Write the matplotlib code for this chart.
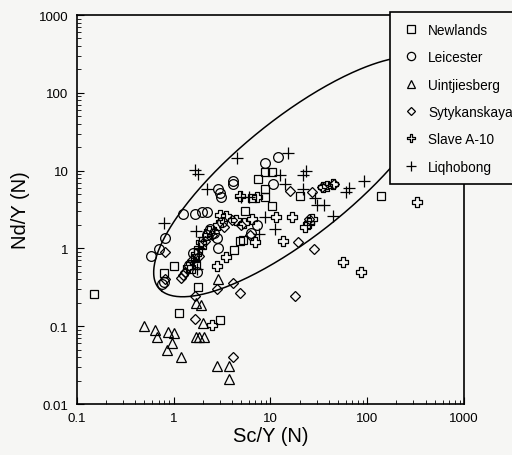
import numpy as np
import matplotlib.pyplot as plt
from matplotlib.path import Path

plt.rcParams['font.family'] = ['Liberation Sans', 'DejaVu Sans']

# --- data (Sc/Y normalised, Nd/Y normalised) ---
newlands_x = [0.15, 1.15, 3.0, 1.8, 0.8, 1.0, 4.2, 4.8, 6.4, 7.5, 8.9, 10.4, 8.9, 8.9, 10.4, 20, 140,
              1.5, 1.65, 1.8, 1.7, 1.95, 5.5, 5.2]
newlands_y = [0.26, 0.15, 0.12, 0.32, 0.48, 0.6, 0.95, 1.25, 4.5, 7.8, 9.6, 9.6, 5.8, 4.6, 3.5, 4.7, 4.7,
              0.55, 0.75, 0.95, 0.62, 1.1, 3.0, 1.3]

leicester_x = [0.58, 0.71, 0.82, 0.76, 0.8, 1.26, 1.67, 1.97, 2.22, 2.9, 3.0, 3.1, 4.1, 4.1, 8.8, 12,
               10.7, 2.9, 2.8, 2.4, 7.2, 1.45, 1.6, 1.75, 2.2, 2.6, 3.2, 6.3]
leicester_y = [0.8, 0.98, 1.37, 0.35, 0.37, 2.77, 2.8, 2.98, 2.98, 5.8, 5.2, 4.6, 7.4, 6.8, 12.5, 15,
               6.8, 1.0, 1.35, 1.8, 2.0, 0.62, 0.88, 0.5, 1.5, 1.6, 2.2, 1.6]

uint_x = [0.49, 0.64, 0.68, 0.88, 1.0, 0.97, 0.85, 1.2, 1.7, 1.9, 1.7, 2.05, 1.85, 2.0, 2.9, 2.8, 3.7, 3.7]
uint_y = [0.10, 0.09, 0.072, 0.085, 0.082, 0.06, 0.05, 0.04, 0.2, 0.19, 0.072, 0.072, 0.072, 0.11,
          0.41, 0.031, 0.031, 0.021]

syty_x = [0.82, 0.82, 1.2, 1.67, 1.67, 2.8, 4.1, 4.9, 4.1, 18, 28.3, 19.3, 16, 27, 34, 45, 25,
          1.3, 1.55, 1.85, 2.1, 2.5, 3.3, 4.0, 5.0, 6.1, 1.25]
syty_y = [0.9, 0.4, 0.42, 0.245, 0.125, 0.3, 0.36, 0.27, 0.04, 0.245, 0.99, 1.2, 5.5, 5.3, 6.2, 6.7, 2.4,
          0.5, 0.7, 0.8, 1.25, 1.5, 1.9, 2.3, 2.0, 1.5, 0.45]

slave_x = [330, 56, 87, 13.6, 16.9, 23, 25, 27, 11.5, 7.0, 3.5, 2.8, 2.5, 4.9, 3.0, 44.6, 35, 38, 7.2,
           1.4, 1.7, 1.9, 2.3, 2.9, 3.5, 4.4, 5.3, 6.5]
slave_y = [3.9, 0.67, 0.5, 1.24, 2.5, 1.9, 2.1, 2.4, 2.5, 1.2, 0.78, 0.6, 0.104, 4.7, 2.7, 6.7, 6.2, 6.3, 4.6,
           0.58, 0.85, 1.2, 1.7, 2.0, 2.6, 2.3, 2.1, 2.4]

liq_x = [0.8, 1.66, 1.8, 2.2, 4.5, 15.2, 12.6, 14.3, 21.5, 23.4, 29, 30, 36, 61, 65, 92, 44.6, 11.2,
         8.9, 7.7, 21.5, 1.6, 1.75, 1.85, 1.7, 2.0, 6.0, 5.0]
liq_y = [2.1, 10.2, 9.1, 5.8, 14.5, 16.9, 8.8, 6.7, 8.8, 10, 4.5, 3.6, 3.6, 5.3, 6.0, 7.4, 2.6, 1.8,
         2.5, 1.55, 5.8, 0.7, 0.55, 1.0, 1.7, 1.4, 4.6, 4.6]

# points traced on the envelope line (log10 x, log10 y)
env_lx = [-0.118, 0.036, 0.243, 0.48, 0.82, 1.10, 1.307, 1.648, 2.237,
          -0.057, 0.068, 0.275, 0.657, 0.79, 1.43, 2.237]
env_ly = [-0.008, -0.432, -0.56, -0.548, -0.393, -0.175, 0.031, 0.404, 1.046,
          0.211, 0.596, 0.853, 1.149, 1.37, 1.92, 2.5]

# open-cross marker used for Slave A-10
cross = Path([(-0.35, 1), (0.35, 1), (0.35, 0.35), (1, 0.35), (1, -0.35), (0.35, -0.35),
              (0.35, -1), (-0.35, -1), (-0.35, -0.35), (-1, -0.35), (-1, 0.35), (-0.35, 0.35),
              (-0.35, 1)])

bg = '#f6f6f4'
fig = plt.figure(figsize=(5.12, 4.56), dpi=100, facecolor=bg)
ax = fig.add_axes([0.1498, 0.1118, 0.7566, 0.853], facecolor=bg)

# ellipse fitted to the traced envelope (in centred log space)
lx = np.array(env_lx)
ly = np.array(env_ly)
mx, my = lx.mean(), ly.mean()
u, vv = lx - mx, ly - my
A = np.column_stack([u**2, u * vv, vv**2, u, vv])
a, b, c, d, e = np.linalg.lstsq(A, np.ones_like(u), rcond=None)[0]
f = -1.0
x0, y0 = np.linalg.solve([[2 * a, b], [b, 2 * c]], [-d, -e])
fc = f + (d * x0 + e * y0) / 2
w, v = np.linalg.eigh([[a, b / 2], [b / 2, c]])
t = np.linspace(0, 2 * np.pi, 400)
r = np.sqrt(-fc / w)
pts = v @ np.vstack([r[0] * np.cos(t), r[1] * np.sin(t)])
ax.plot(10 ** (mx + x0 + pts[0]), 10 ** (my + y0 + pts[1]), color='black', lw=1.1, zorder=1)

kw = dict(linestyle='none', mfc='none', mec='black', mew=0.9, zorder=3)
h1, = ax.plot(newlands_x, newlands_y, marker='s', ms=6, label='Newlands', **kw)
h2, = ax.plot(leicester_x, leicester_y, marker='o', ms=7, label='Leicester', **kw)
h3, = ax.plot(uint_x, uint_y, marker='^', ms=7, label='Uintjiesberg', **kw)
h4, = ax.plot(syty_x, syty_y, marker='D', ms=5, label='Sytykanskaya', **kw)
h5, = ax.plot(slave_x, slave_y, marker=cross, ms=7, label='Slave A-10', **kw)
h6, = ax.plot(liq_x, liq_y, marker='+', ms=8, label='Liqhobong', **kw)

ax.set_xscale('log')
ax.set_yscale('log')
ax.set_xlim(0.1, 1000)
ax.set_ylim(0.01, 1000)
ax.set_xticks([0.1, 1, 10, 100, 1000])
ax.set_xticklabels(['0.1', '1', '10', '100', '1000'])
ax.set_yticks([0.01, 0.1, 1, 10, 100, 1000])
ax.set_yticklabels(['0.01', '0.1', '1', '10', '100', '1000'])
ax.tick_params(which='both', direction='in', top=False, right=False, labelsize=9.5, pad=6)
ax.tick_params(which='major', length=5)
ax.tick_params(which='minor', length=3)
for s in ax.spines.values():
    s.set_linewidth(1.2)

ax.set_xlabel('Sc/Y (N)', fontsize=14.5, labelpad=1)
ax.set_ylabel('Nd/Y (N)', fontsize=14.5, labelpad=6)

leg = fig.legend(handles=[h1, h2, h3, h4, h5, h6], loc='upper left',
                 bbox_to_anchor=(390 / 512, 1 - 13 / 456), fontsize=9.8, frameon=True,
                 fancybox=False, edgecolor='black', facecolor=bg, framealpha=1,
                 handlelength=1.5, handletextpad=0.5, labelspacing=0.98, borderpad=0.8,
                 borderaxespad=0, markerscale=0.85)
leg.get_frame().set_linewidth(1.2)

plt.savefig('out.png', dpi=100, facecolor=bg)
